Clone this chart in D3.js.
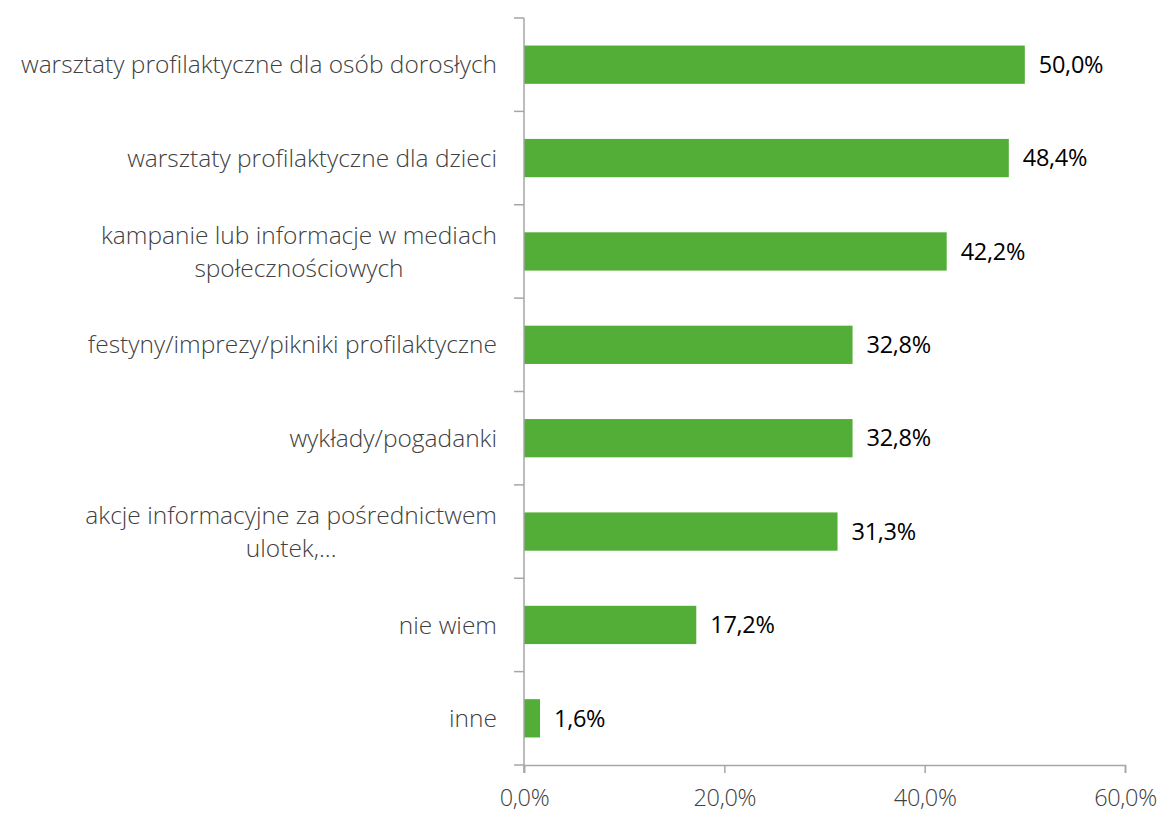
<!DOCTYPE html>
<html>
<head>
<meta charset="utf-8">
<script src="https://cdn.jsdelivr.net/npm/d3@7"></script>
<style>
  body { margin: 0; background: #fff; }
  svg { font-family: "Open Sans", "Noto Sans", sans-serif; }
</style>
</head>
<body>
<script>
// chart data
var categories = [
  ["warsztaty profilaktyczne dla osób dorosłych"],
  ["warsztaty profilaktyczne dla dzieci"],
  ["kampanie lub informacje w mediach", "społecznościowych"],
  ["festyny/imprezy/pikniki profilaktyczne"],
  ["wykłady/pogadanki"],
  ["akcje informacyjne za pośrednictwem", "ulotek,..."],
  ["nie wiem"],
  ["inne"]
];
var values = [50.0, 48.4, 42.2, 32.8, 32.8, 31.3, 17.2, 1.6];
var xTicks = [0, 20, 40, 60];

var width = 1162;
var height = 817;
var plotLeft = 524, plotRight = 1125, plotTop = 18, plotBottom = 765;

var svg = d3.select("body").append("svg")
  .attr("width", width)
  .attr("height", height);

var x = d3.scaleLinear().domain([0, 60]).range([plotLeft, plotRight]);
var y = d3.scaleBand().domain(d3.range(categories.length)).range([plotTop, plotBottom]).paddingInner(0.59).paddingOuter(0.295);

var fmt = function(v) { return v.toFixed(1).replace(".", ",") + "%"; };

// bars
svg.selectAll("rect.bar")
  .data(values)
  .enter()
  .append("rect")
  .attr("class", "bar")
  .attr("x", x(0))
  .attr("y", function(d, i) { return y(i); })
  .attr("width", function(d) { return x(d) - x(0); })
  .attr("height", y.bandwidth())
  .attr("fill", "#52ae37");

// value labels
svg.selectAll("text.val")
  .data(values)
  .enter()
  .append("text")
  .attr("class", "val")
  .attr("x", function(d) { return x(d) + 14; })
  .attr("y", function(d, i) { return y(i) + y.bandwidth() / 2; })
  .attr("dy", "0.35em")
  .style("font-size", "23.5px")
  .style("letter-spacing", "-0.3px")
  .style("fill", "#000")
  .text(function(d) { return fmt(d); });

// y axis line + ticks at band boundaries
var step = y.step();
var boundaries = d3.range(categories.length + 1).map(function(i) { return plotTop + i * step; });
svg.append("line")
  .attr("x1", plotLeft).attr("x2", plotLeft)
  .attr("y1", plotTop).attr("y2", plotBottom + 8)
  .attr("stroke", "#a6a6a6").attr("stroke-width", 1.5);
svg.selectAll("line.ytick")
  .data(boundaries)
  .enter()
  .append("line")
  .attr("class", "ytick")
  .attr("x1", plotLeft - 10).attr("x2", plotLeft)
  .attr("y1", function(d) { return d; }).attr("y2", function(d) { return d; })
  .attr("stroke", "#a6a6a6").attr("stroke-width", 1.5);

// x axis
var xAxis = svg.append("g")
  .attr("transform", "translate(0," + plotBottom + ")")
  .call(d3.axisBottom(x).tickValues(xTicks).tickSize(8).tickFormat(fmt));
xAxis.select(".domain").attr("stroke", "#a6a6a6").attr("stroke-width", 1.5);
xAxis.selectAll(".tick line").attr("stroke", "#a6a6a6").attr("stroke-width", 1.5);
xAxis.selectAll(".tick text")
  .attr("y", 24)
  .style("font-family", "'Open Sans', sans-serif")
  .style("font-weight", 300)
  .style("font-size", "23.5px")
  .style("letter-spacing", "-0.3px")
  .style("fill", "#404040");

// category labels
var labelRight = 497;
categories.forEach(function(lines, i) {
  var cy = y(i) + y.bandwidth() / 2;
  var t = svg.append("text")
    .style("font-size", "24.5px")
    .style("font-weight", 300)
    .style("fill", "#404040");
  if (lines.length === 1) {
    t.attr("text-anchor", "end")
      .attr("x", labelRight)
      .attr("y", cy)
      .attr("dy", "0.35em")
      .text(lines[0]);
  } else {
    t.attr("text-anchor", "middle");
    var spans = t.selectAll("tspan").data(lines).enter().append("tspan")
      .attr("y", function(d, j) { return cy + (j - (lines.length - 1) / 2) * 33; })
      .attr("dy", "0.35em")
      .text(function(d) { return d; });
    // center block so widest line ends at labelRight
    var w = d3.max(spans.nodes(), function(n) { return n.getComputedTextLength(); });
    spans.attr("x", labelRight - w / 2);
  }
});
</script>
</body>
</html>
